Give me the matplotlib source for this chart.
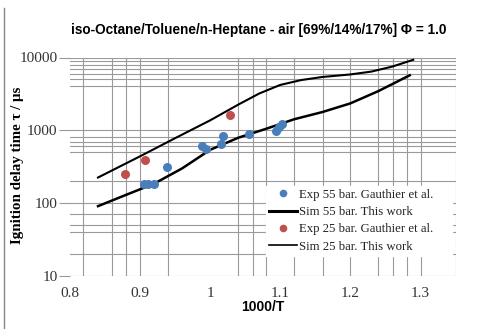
import matplotlib
matplotlib.use("Agg")
import matplotlib.pyplot as plt
from matplotlib.lines import Line2D
import numpy as np

# ---- data ----
exp55_x = [0.905, 0.912, 0.920, 0.938, 0.988, 0.994, 1.015, 1.019, 1.056, 1.094, 1.098, 1.102]
exp55_y = [181, 181, 181, 313, 604, 562, 658, 838, 883, 982, 1120, 1240]

exp25_x = [0.879, 0.907, 1.029]
exp25_y = [248, 387, 1615]

sim55_x = [0.84, 0.88, 0.92, 0.96, 1.00, 1.04, 1.08, 1.12, 1.16, 1.20, 1.24, 1.285]
sim55_y = [91, 130, 185, 300, 540, 790, 1050, 1420, 1780, 2340, 3450, 5700]

sim25_x = [0.84, 0.90, 0.95, 1.00, 1.04, 1.07, 1.10, 1.13, 1.16, 1.20, 1.23, 1.26, 1.29]
sim25_y = [225, 440, 780, 1370, 2250, 3200, 4200, 4900, 5400, 5850, 6400, 7500, 9300]

xtick_vals = [0.8, 0.9, 1.0, 1.1, 1.2, 1.3]
xtick_labels = ["0.8", "0.9", "1", "1.1", "1.2", "1.3"]
ytick_vals = [10, 100, 1000, 10000]
ytick_labels = ["10", "100", "1000", "10000"]

# grid lines as they appear in the (scanned) picture
grid_x = [0.819, 0.860, 0.880, 0.900, 0.940, 1.040, 1.061, 1.080, 1.120,
          1.161, 1.200, 1.240, 1.261, 1.281, 1.301, 1.351]
grid_y = [20, 40, 50, 70, 200, 500, 600, 700, 800,
          4000, 5000, 6000, 7000, 8000, 9000]

title = "iso-Octane/Toluene/n-Heptane - air [69%/14%/17%] \u03a6 = 1.0"
xlabel = "1000/T"
ylabel = "Ignition delay time \u03c4 / \u03bcs"
legend_labels = ["Exp 55 bar. Gauthier et al.", "Sim 55 bar. This work",
                 "Exp 25 bar. Gauthier et al.", "Sim 25 bar. This work"]

blue = "#4a7ebb"
red = "#c0504d"
gridc = "#9a9a9a"

fig = plt.figure(figsize=(4.78, 3.29), dpi=100)
W, H = 478, 329
L, R, T, B = 70, 456, 57.5, 276
ax = fig.add_axes([L / W, 1 - B / H, (R - L) / W, (B - T) / H])
ax.set_yscale("log")
ax.set_xlim(0.8, 1.351)
ax.set_ylim(10, 10000)
for s in ax.spines.values():
    s.set_visible(False)

# grid
for gx in grid_x:
    ax.axvline(gx, color=gridc, lw=0.8, zorder=0)
for gy in grid_y + ytick_vals:
    ax.axhline(gy, color=gridc, lw=0.8, zorder=0)

ax.set_xticks(xtick_vals)
ax.set_xticklabels(xtick_labels)
ax.set_yticks(ytick_vals)
ax.set_yticklabels(ytick_labels)
ax.minorticks_off()
ax.tick_params(axis="x", length=0, pad=8, labelsize=11, labelcolor="#333333")
ax.tick_params(axis="y", length=8, color=gridc, width=0.8, pad=1, labelsize=11, labelcolor="#333333")
for lab in ax.get_xticklabels() + ax.get_yticklabels():
    lab.set_family("Liberation Serif")

ax.plot(sim55_x, sim55_y, color="black", lw=1.8, zorder=3)
ax.plot(sim25_x, sim25_y, color="black", lw=1.5, zorder=3)
ax.plot(exp55_x, exp55_y, "o", color=blue, ms=6.5, mec="none", zorder=4)
ax.plot(exp25_x, exp25_y, "o", color=red, ms=6.5, mec="none", zorder=4)

handles = [
    Line2D([], [], marker="o", ls="none", color=blue, ms=5.5, mec="none"),
    Line2D([], [], color="black", lw=2.2),
    Line2D([], [], marker="o", ls="none", color=red, ms=5.5, mec="none"),
    Line2D([], [], color="black", lw=1.2),
]
leg = ax.legend(handles, legend_labels, loc="lower left",
                bbox_to_anchor=((266 - L) / (R - L), (B - 256) / (B - T), (452 - 266) / (R - L), (256 - 180) / (B - T)),
                mode="expand", frameon=True, fancybox=False, framealpha=1,
                edgecolor="white", borderpad=0.25, labelspacing=0.42,
                handlelength=2.2, handletextpad=0.1, borderaxespad=0,
                prop={"family": "Liberation Serif", "size": 9.2})
for t in leg.get_texts():
    t.set_color("#222222")

fig.text(259 / W, 1 - 30 / H, title, ha="center", va="center",
         fontsize=9.8, fontweight="bold", family="Liberation Sans")
fig.text(263 / W, 1 - 307 / H, xlabel, ha="center", va="center",
         fontsize=10, fontweight="bold", family="Liberation Sans")
fig.text(18 / W, 1 - 165 / H, ylabel, ha="center", va="center", rotation=90,
         fontsize=10.8, fontweight="bold", family="Liberation Serif")

fig.add_artist(Line2D([4 / W, 4 / W], [0, 1 - 8 / H], color="#888888", lw=1))

fig.savefig("out.png", dpi=100)
